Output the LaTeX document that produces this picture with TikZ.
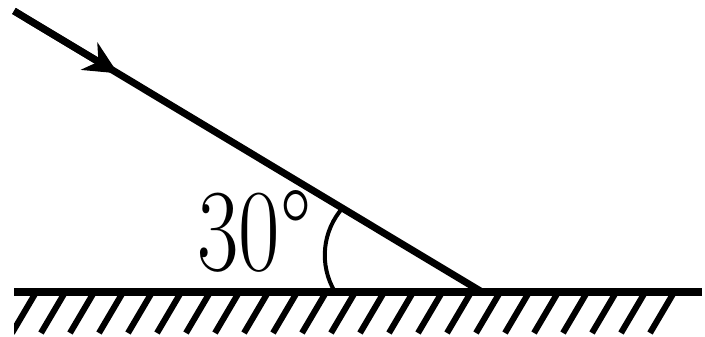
\documentclass[tikz,border=0pt]{standalone}
\usetikzlibrary{arrows.meta, calc}
\tikzset{
  raio/.style={line width=6pt, black},
  espelho/.style={line width=7.5pt, black},
  hachura/.style={line width=5.2pt, black},
  arco/.style={line width=3.4pt, black},
  seta/.style={-{Stealth[length=1.0cm, width=0.95cm, inset=0.32cm]}},
}

\begin{document}
\begin{tikzpicture}[
    x=0.03cm, y=0.03cm,
    rotulo/.style={
        font=\fontsize{100}{100}\selectfont,
        inner sep=0pt,
        anchor=base west
    }
]
\useasboundingbox (0,0) rectangle (705,336);

% Espelho
\coordinate (esq) at (14,44);
\coordinate (dir) at (702,44);
\coordinate (O) at (482,44);
\draw[espelho] (esq) -- (dir);

% Hachuras
\begin{scope}
\clip (14,0) rectangle (705,42);
\foreach \k in {0,...,22}
  \draw[hachura] (35+29*\k,42) -- (12+29*\k,3);
\end{scope}

% Raio incidente
\coordinate (ini) at (14,325);
\coordinate (ponta) at ($(ini)!0.222!(O)$);
\draw[raio] (ini) -- (O);
\draw[raio, seta] (ini) -- (ponta);

% Angulo
\coordinate (a0) at (335,44);
\draw[arco] (a0) arc[start angle=211, end angle=138, radius=71.5];
\node[rotulo] (ang) at (197,66) {\scalebox{0.77}[1]{30°}};

\end{tikzpicture}
\end{document}
